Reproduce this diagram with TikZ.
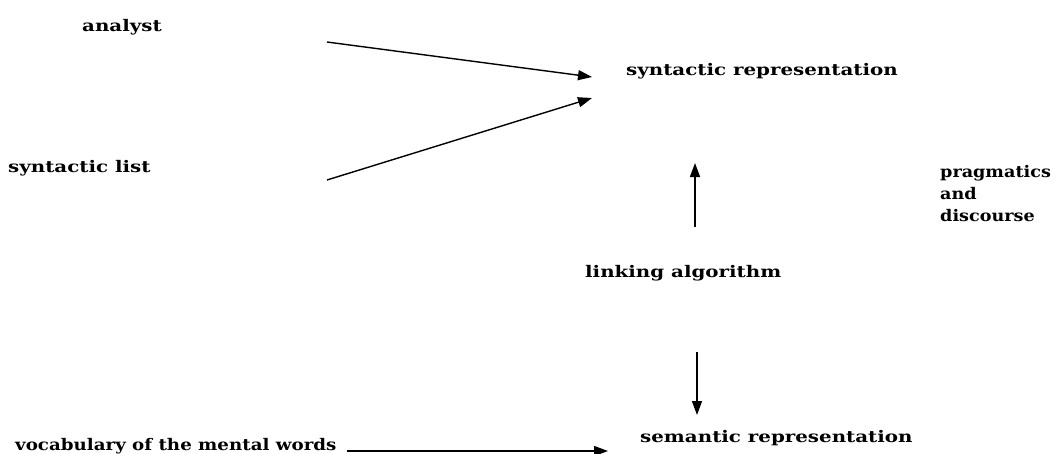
\documentclass[tikz,border=0pt]{standalone}
\usepackage{fontspec}
\setmainfont[FakeStretch=1.24]{DejaVu Serif}
\newfontfamily\vocabfont[FakeStretch=1.14]{DejaVu Serif}
\newfontfamily\pragfont[FakeStretch=1.10]{DejaVu Serif}
\usetikzlibrary{arrows.meta}
\tikzset{
  lbl/.style={anchor=base west, inner sep=0pt, font=\bfseries\fontsize{16}{22}\selectfont},
  arr/.style={line width=1.4pt, -{Triangle[length=14pt,width=10pt]}},
}
\begin{document}
\begin{tikzpicture}[x=1pt,y=-1pt]
\useasboundingbox[fill=white] (0,0) rectangle (1061,453);
\node[lbl] (analyst) at (82,31) {analyst};
\node[lbl] (synlist) at (8,172) {syntactic list};
\node[lbl] (synrep) at (626,75) {syntactic representation};
\node[lbl, align=left, font=\pragfont\bfseries\fontsize{16}{22}\selectfont] (prag) at (940,221) {pragmatics\\and\\discourse};
\node[lbl] (link) at (585,277) {linking algorithm};
\node[lbl, font=\vocabfont\bfseries\fontsize{16}{22}\selectfont] (vocab) at (15,450) {vocabulary of the mental words};
\node[lbl] (semrep) at (640,442) {semantic representation};
\coordinate (a1) at (327,42);
\coordinate (a2) at (592,77);
\coordinate (b1) at (327,180);
\coordinate (b2) at (592,98);
\coordinate (c1) at (695,227);
\coordinate (c2) at (695,163);
\coordinate (d1) at (697,352);
\coordinate (d2) at (697,415);
\coordinate (e1) at (347,451);
\coordinate (e2) at (608,451);
\draw[arr] (a1) -- (a2);
\draw[arr] (b1) -- (b2);
\draw[arr] (c1) -- (c2);
\draw[arr] (d1) -- (d2);
\draw[arr] (e1) -- (e2);
\end{tikzpicture}
\end{document}
